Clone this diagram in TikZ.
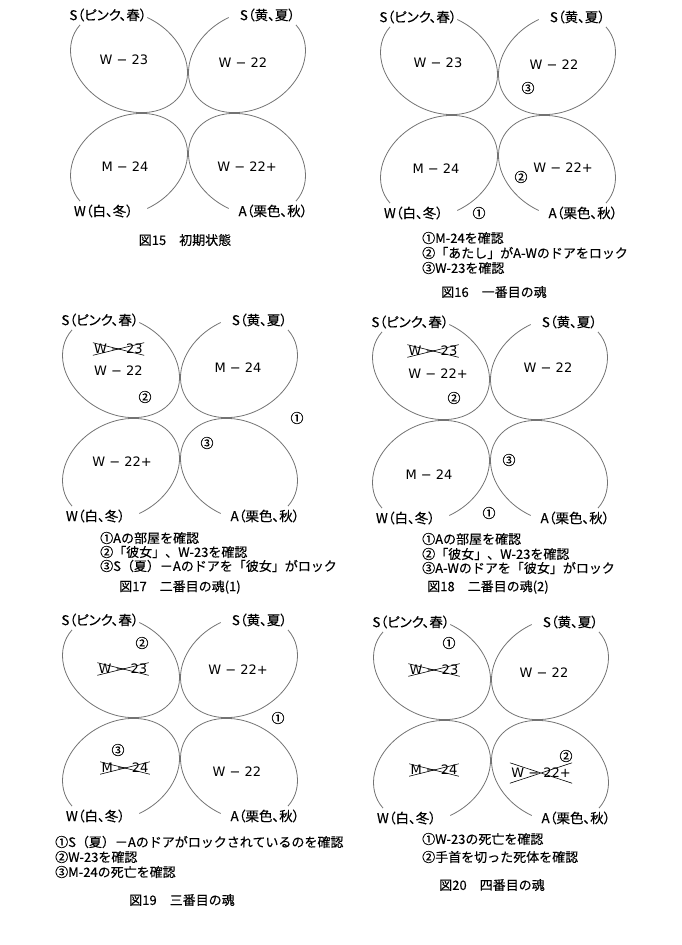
\documentclass[tikz,border=0pt]{standalone}
\usepackage{fontspec}
\setmainfont{Noto Sans CJK JP}[FakeBold=0.2]
\newfontfamily\lblfont{Noto Sans CJK JP}[RawFeature=+palt, FakeBold=0.2]
\newfontfamily\roomfont{DejaVu Sans}
\usetikzlibrary{calc}
\tikzset{
  petal/.style={draw=black!55, line width=0.8pt},
  lbl/.style={font=\lblfont\fontsize{13.5}{15}\selectfont, inner sep=0pt},
  room/.style={font=\roomfont\fontsize{13}{15}\selectfont, inner sep=1.2pt},
  num/.style={font=\fontsize{13}{15}\selectfont, inner sep=0pt},
  note/.style={font=\fontsize{13}{15}\selectfont, anchor=west, inner sep=0pt},
  figcap/.style={font=\fontsize{13}{15}\selectfont, inner sep=0pt},
  cross/.style={draw=black, line width=0.6pt},
}
\newcommand\petalarc{\draw[petal, shift={(-59,-51.5)}, rotate=-29] (-95:61.5 and 47.5) arc[start angle=-95, end angle=190, x radius=61.5, y radius=47.5];}
\newcommand\clover[3]{%
  \begin{scope}[shift={(#2,#3)}]
    \petalarc
    \begin{scope}[xscale=-1]\petalarc\end{scope}
    \begin{scope}[yscale=-1]\petalarc\end{scope}
    \begin{scope}[scale=-1]\petalarc\end{scope}
    \node[lbl] (#1sp) at (-80,-98) {S（ピンク、春）};
    \node[lbl] (#1su) at (79.5,-98) {S（黄、夏）};
    \node[lbl] (#1wi) at (-84.5,98) {W（白、冬）};
    \node[lbl] (#1au) at (85,98) {A（栗色、秋）};
  \end{scope}}
\newcommand\crossout[1]{\draw[cross] (#1.north west) -- (#1.south east) (#1.south west) -- (#1.north east);}
\begin{document}
\begin{tikzpicture}[x=1pt, y=-1pt]
\useasboundingbox (0,0) rectangle (682,945);
% ---------- Fig 15
\clover{a}{188}{113}
\node[room] (a1) at (124,60) {W − 23};
\node[room] (a2) at (243,63) {W − 22};
\node[room] (a3) at (125,167) {M − 24};
\node[room] (a4) at (247,167) {W − 22+};
\node[figcap] (acap) at (185,240) {図15　初期状態};
% ---------- Fig 16
\clover{b}{498}{115}
\node[room] (b1) at (438,63) {W − 23};
\node[room] (b2) at (554,65) {W − 22};
\node[room] (b3) at (436,169) {M − 24};
\node[room] (b4) at (563,168) {W − 22+};
\node[num] (bn3) at (528,88) {③};
\node[num] (bn2) at (521,177) {②};
\node[num] (bn1) at (479,213) {①};
\node[note] (bl1) at (422,238) {①M-24を確認};
\node[note] (bl2) at (422,253) {②「あたし」がA-Wのドアをロック};
\node[note] (bl3) at (422,268) {③W-23を確認};
\node[figcap] (bcap) at (494,292) {図16　一番目の魂};
% ---------- Fig 17
\clover{c}{180}{418}
\node[room] (cx) at (118.5,349) {W − 23};
\crossout{cx}
\node[room] (c1) at (118.5,371) {W − 22};
\node[room] (c2) at (238,368) {M − 24};
\node[room] (c3) at (122,462) {W − 22+};
\node[num] (cn2) at (145,397) {②};
\node[num] (cn1) at (297,418) {①};
\node[num] (cn3) at (207,443) {③};
\node[note] (cl1) at (100,538) {①Aの部屋を確認};
\node[note] (cl2) at (100,552) {②「彼女」、W-23を確認};
\node[note] (cl3) at (100,566) {③S（夏）－Aのドアを「彼女」がロック};
\node[figcap] (ccap) at (180,587) {図17　二番目の魂(1)};
% ---------- Fig 18
\clover{d}{490}{420}
\node[room] (dx) at (433,351) {W − 23};
\crossout{dx}
\node[room] (d1) at (438,374) {W − 22+};
\node[room] (d2) at (548,368) {W − 22};
\node[room] (d3) at (429,475) {M − 24};
\node[num] (dn2) at (454,398) {②};
\node[num] (dn3) at (509,460) {③};
\node[num] (dn1) at (489,513) {①};
\node[note] (dl1) at (422,539) {①Aの部屋を確認};
\node[note] (dl2) at (422,554) {②「彼女」、W-23を確認};
\node[note] (dl3) at (422,568) {③A-Wのドアを「彼女」がロック};
\node[figcap] (dcap) at (488,587) {図18　二番目の魂(2)};
% ---------- Fig 19
\clover{e}{180}{718}
\node[room] (ex1) at (123,669) {W − 23};
\crossout{ex1}
\node[room] (ex2) at (125,768) {M − 24};
\crossout{ex2}
\node[room] (e1) at (238,670) {W − 22+};
\node[room] (e2) at (237,772) {W − 22};
\node[num] (en2) at (142,643) {②};
\node[num] (en1) at (278,718) {①};
\node[num] (en3) at (118,750) {③};
\node[note] (el1) at (55,842) {①S（夏）－Aのドアがロックされているのを確認};
\node[note] (el2) at (55,857) {②W-23を確認};
\node[note] (el3) at (55,872) {③M-24の死亡を確認};
\node[figcap] (ecap) at (182,900) {図19　三番目の魂};
% ---------- Fig 20
\clover{f}{491}{720}
\node[room] (fx1) at (434,670) {W − 23};
\crossout{fx1}
\node[room] (fx2) at (434,770) {M − 24};
\crossout{fx2}
\node[room] (fx3) at (541,773) {W − 22+};
\draw[cross] ([yshift=4pt]fx3.north west) -- ([yshift=-4pt]fx3.south east)
             ([yshift=-4pt]fx3.south west) -- ([yshift=4pt]fx3.north east);
\node[room] (f1) at (544,673) {W − 22};
\node[num] (fn1) at (449,643) {①};
\node[num] (fn2) at (566,756) {②};
\node[note] (fl1) at (422,839) {①W-23の死亡を確認};
\node[note] (fl2) at (422,857) {②手首を切った死体を確認};
\node[figcap] (fcap) at (492,885) {図20　四番目の魂};
\end{tikzpicture}
\end{document}
